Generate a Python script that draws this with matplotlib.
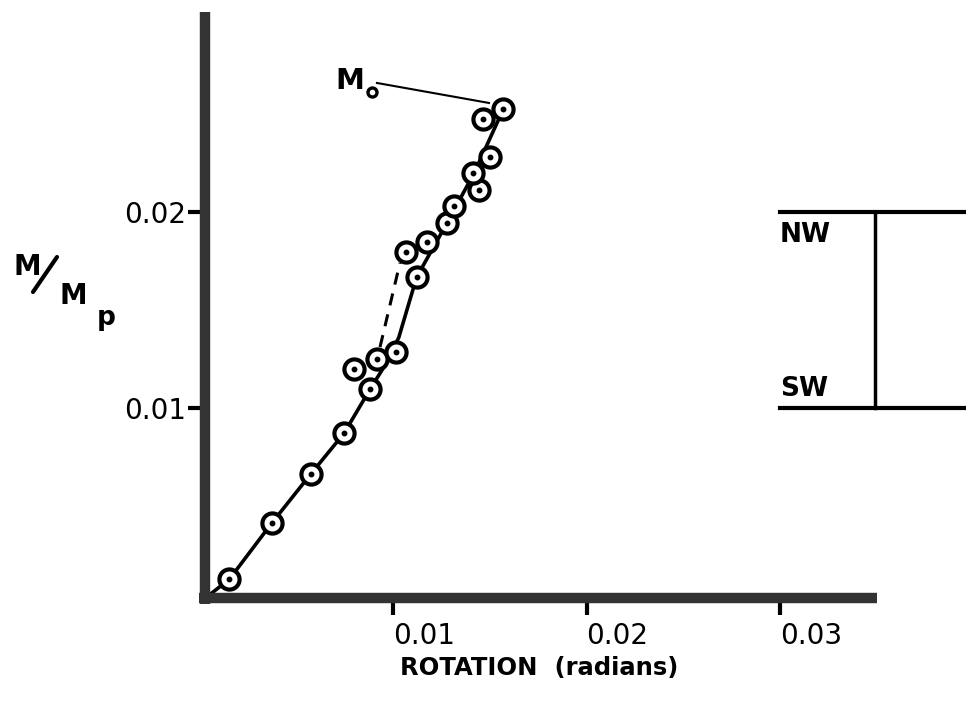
import matplotlib
matplotlib.use("Agg")
import matplotlib.pyplot as plt
from matplotlib.lines import Line2D

# measured moment ratio vs rotation
rotation = [0.00154, 0.00373, 0.00575, 0.00747, 0.00881, 0.00800, 0.00916,
            0.01014, 0.01122, 0.01067, 0.01174, 0.01278, 0.01317, 0.01446,
            0.01415, 0.01501, 0.01464, 0.01570]
moment = [0.00126, 0.00412, 0.00663, 0.00871, 0.01095, 0.01197, 0.01250,
          0.01284, 0.01667, 0.01797, 0.01848, 0.01942, 0.02032, 0.02112,
          0.02197, 0.02279, 0.02473, 0.02524]

# faired curve through the data
curve_x = [0.0003, 0.00154, 0.00373, 0.00575, 0.00747, 0.00881, 0.00960,
           0.01030, 0.01122, 0.01278, 0.01420, 0.01570]
curve_y = [0.0003, 0.00126, 0.00412, 0.00663, 0.00871, 0.01095, 0.01220,
           0.01360, 0.01667, 0.01942, 0.02200, 0.02524]

# dashed branch
dash_x = [0.00933, 0.01036]
dash_y = [0.01311, 0.01740]

# M_o leader line
mo_x = [0.00917, 0.01496]
mo_y = [0.02658, 0.02556]

xticks = [0.01, 0.02, 0.03]
xtick_labels = ["0.01", "0.02", "0.03"]
yticks = [0.01, 0.02]
ytick_labels = ["0.01", "0.02"]

# NW / SW sketch levels
nw_level = 0.02
sw_level = 0.01

fig = plt.figure(figsize=(9.66, 7.01), dpi=100)
ax = fig.add_axes([0.20652, 0.13837, 0.7011, 0.8445])
ax.set_xlim(0, 0.035)
ax.set_ylim(0, 0.0302)

spine_col = "#333333"
for side in ["top", "right"]:
    ax.spines[side].set_visible(False)
ax.spines["left"].set_position(("data", 0.00028))
ax.spines["bottom"].set_position(("data", 0.0003))
for side in ["left", "bottom"]:
    ax.spines[side].set_linewidth(7.5)
    ax.spines[side].set_color(spine_col)
    ax.spines[side].set_capstyle("butt")

ax.set_xticks(xticks)
ax.set_xticklabels(xtick_labels, ha="left")
ax.set_yticks(yticks)
ax.set_yticklabels(ytick_labels)
ax.tick_params(axis="both", length=12, width=3, color="black",
               labelsize=20, direction="out")
ax.tick_params(axis="x", pad=5)
ax.tick_params(axis="y", pad=1.5)

ax.plot(curve_x, curve_y, color="black", lw=2.6, solid_capstyle="round",
        solid_joinstyle="round", zorder=2)
ax.plot(dash_x, dash_y, color="black", lw=2.2, linestyle=(0, (4, 3)),
        zorder=2)
ax.plot(mo_x, mo_y, color="black", lw=1.5, zorder=2)

ax.plot(rotation, moment, linestyle="none", marker="o", markersize=14.5,
        markerfacecolor="white", markeredgecolor="black",
        markeredgewidth=3, zorder=3)
ax.plot(rotation, moment, linestyle="none", marker="o", markersize=3.2,
        color="black", zorder=4)

# M_o label
ax.text(0.00700, 0.02595, "M", fontsize=21, fontweight="bold",
        ha="left", va="bottom")
ax.plot([0.00890], [0.02610], marker="o", markersize=6.5,
        markerfacecolor="white", markeredgecolor="black",
        markeredgewidth=2.4, clip_on=False, zorder=4)

# NW / SW sketch on the right
ax.plot([0.0300, 0.0397], [nw_level, nw_level], color="black", lw=3,
        clip_on=False)
ax.plot([0.0300, 0.0397], [sw_level, sw_level], color="black", lw=3,
        clip_on=False)
ax.plot([0.0349, 0.0349], [sw_level, nw_level], color="black", lw=2.5,
        clip_on=False)
ax.text(0.0300, nw_level - 0.0005, "NW", fontsize=19, fontweight="bold",
        ha="left", va="top")
ax.text(0.0300, sw_level + 0.0003, "SW", fontsize=19, fontweight="bold",
        ha="left", va="bottom")

# axis titles
fig.text(539 / 966, 1 - 668 / 701, "ROTATION  (radians)", fontsize=17.5,
         fontweight="bold", ha="center", va="center")
fig.text(13 / 966, 1 - 267 / 701, "M", fontsize=20, fontweight="bold",
         ha="left", va="center")
fig.add_artist(Line2D([33 / 966, 57 / 966], [1 - 292 / 701, 1 - 257 / 701],
                      color="black", lw=3, solid_capstyle="round"))
fig.text(59 / 966, 1 - 296 / 701, "M", fontsize=20, fontweight="bold",
         ha="left", va="center")
fig.text(97 / 966, 1 - 318 / 701, "p", fontsize=19, fontweight="bold",
         ha="left", va="center")

fig.savefig("out.png", dpi=100)
